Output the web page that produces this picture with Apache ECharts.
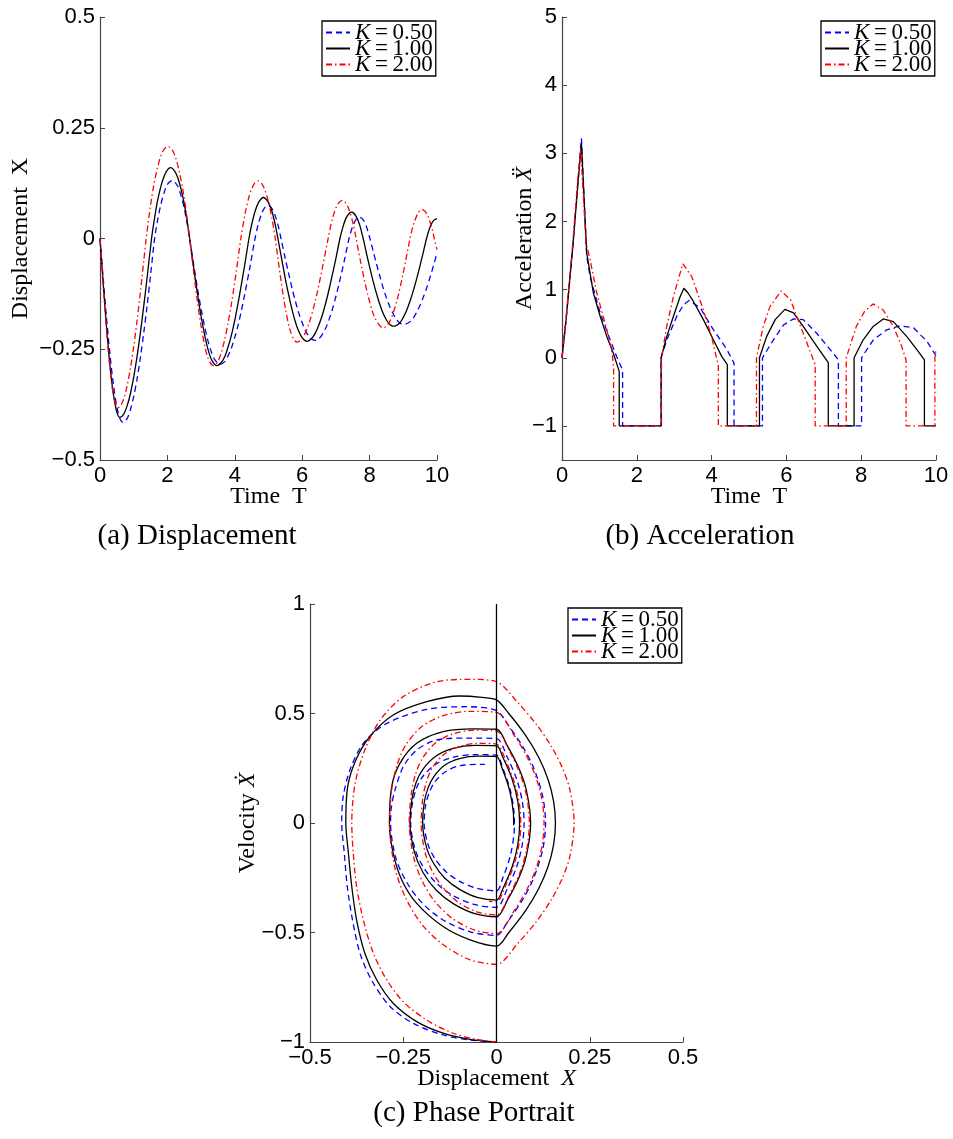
<!DOCTYPE html>
<html>
<head>
<meta charset="utf-8">
<script src="https://cdn.jsdelivr.net/npm/echarts@6/dist/echarts.min.js"></script>
<style>
html, body { margin: 0; padding: 0; background: #fff; }
#main { width: 953px; height: 1139px; }
</style>
</head>
<body>
<div id="main"></div>
<script>
// legend names, one per damping ratio
var names = ['K=0.50', 'K=1.00', 'K=2.00'];

// tick values
var timeTicks = [0, 2, 4, 6, 8, 10];
var dispTicks = [-0.5, -0.25, 0, 0.25, 0.5];
var accTicks = [-1, 0, 1, 2, 3, 4, 5];
var phaseTicksX = [-0.5, -0.25, 0, 0.25, 0.5];
var phaseTicksY = [-1, -0.5, 0, 0.5, 1];

// (a) displacement X vs time T
var dispK050 = [[0,0],[0.1,-0.095],[0.2,-0.185],[0.3,-0.265],[0.4,-0.331],[0.5,-0.38],[0.6,-0.408],[0.68,-0.415],[0.8,-0.407],[0.9,-0.387],[1.0,-0.357],[1.1,-0.317],[1.2,-0.268],[1.3,-0.212],[1.4,-0.15],[1.5,-0.083],[1.62,0],
  [1.7,0.037],[1.8,0.075],[1.9,0.103],[2.0,0.122],[2.14,0.131],[2.3,0.119],[2.4,0.098],[2.5,0.068],[2.6,0.028],[2.66,0],
  [2.8,-0.069],[2.9,-0.116],[3.0,-0.159],[3.1,-0.197],[3.2,-0.23],[3.3,-0.255],[3.4,-0.273],[3.56,-0.284],[3.7,-0.278],[3.8,-0.265],[3.9,-0.247],[4.0,-0.223],[4.1,-0.195],[4.2,-0.161],[4.3,-0.124],[4.45,-0.064],[4.6,0],
  [4.7,0.0335],[4.8,0.057],[4.9,0.071],[4.99,0.074],[5.1,0.068],[5.2,0.051],[5.3,0.025],[5.37,0],
  [5.5,-0.046],[5.6,-0.08],[5.7,-0.113],[5.8,-0.142],[5.9,-0.169],[6.0,-0.19],[6.1,-0.209],[6.25,-0.225],[6.38,-0.23],[6.5,-0.226],[6.6,-0.216],[6.7,-0.202],[6.8,-0.182],[6.9,-0.159],[7.0,-0.131],[7.1,-0.1],[7.25,-0.05],[7.39,0],
  [7.5,0.028],[7.6,0.043],[7.7,0.048],[7.8,0.043],[7.9,0.028],[8.01,0],
  [8.1,-0.027],[8.2,-0.056],[8.3,-0.084],[8.4,-0.111],[8.5,-0.134],[8.6,-0.154],[8.7,-0.17],[8.8,-0.183],[8.9,-0.191],[9.02,-0.194],[9.2,-0.188],[9.3,-0.179],[9.4,-0.166],[9.5,-0.15],[9.6,-0.131],[9.7,-0.11],[9.8,-0.086],[9.9,-0.06],[10,-0.033]];
var dispK100 = [[0,0],[0.1,-0.106],[0.2,-0.205],[0.3,-0.29],[0.4,-0.353],[0.5,-0.392],[0.59,-0.404],[0.7,-0.397],[0.8,-0.379],[0.9,-0.351],[1.0,-0.313],[1.1,-0.266],[1.2,-0.212],[1.3,-0.151],[1.4,-0.087],[1.53,0],
  [1.6,0.037],[1.7,0.082],[1.8,0.116],[1.9,0.14],[2.0,0.155],[2.1,0.16],[2.2,0.154],[2.3,0.139],[2.4,0.113],[2.5,0.078],[2.6,0.032],[2.66,0],
  [2.8,-0.077],[2.9,-0.129],[3.0,-0.176],[3.1,-0.216],[3.2,-0.249],[3.3,-0.272],[3.4,-0.284],[3.47,-0.287],[3.6,-0.28],[3.7,-0.267],[3.8,-0.245],[3.9,-0.218],[4.0,-0.184],[4.1,-0.145],[4.2,-0.102],[4.3,-0.057],[4.42,0],
  [4.5,0.031],[4.6,0.061],[4.7,0.081],[4.8,0.091],[4.85,0.0925],[4.9,0.091],[5.0,0.081],[5.1,0.062],[5.2,0.031],[5.28,0],
  [5.4,-0.05],[5.5,-0.091],[5.6,-0.128],[5.7,-0.161],[5.8,-0.189],[5.9,-0.21],[6.0,-0.224],[6.14,-0.232],[6.3,-0.224],[6.4,-0.212],[6.5,-0.194],[6.6,-0.172],[6.7,-0.145],[6.8,-0.114],[6.9,-0.08],[7.0,-0.045],[7.12,0],
  [7.2,0.024],[7.3,0.046],[7.4,0.057],[7.46,0.0595],[7.5,0.059],[7.6,0.05],[7.7,0.032],[7.81,0],
  [7.9,-0.031],[8.0,-0.064],[8.1,-0.095],[8.2,-0.123],[8.3,-0.148],[8.4,-0.169],[8.5,-0.184],[8.6,-0.194],[8.72,-0.198],[8.9,-0.19],[9.0,-0.178],[9.1,-0.162],[9.2,-0.141],[9.3,-0.117],[9.4,-0.09],[9.5,-0.06],[9.6,-0.029],[9.69,0],
  [9.8,0.027],[9.9,0.041],[10,0.045]];
var dispK200 = [[0,0],[0.1,-0.112],[0.2,-0.213],[0.3,-0.297],[0.4,-0.354],[0.53,-0.382],[0.6,-0.379],[0.7,-0.363],[0.8,-0.334],[0.9,-0.294],[1.0,-0.244],[1.1,-0.185],[1.2,-0.12],[1.3,-0.05],[1.37,0],
  [1.5,0.075],[1.6,0.122],[1.7,0.158],[1.8,0.185],[1.9,0.201],[2.02,0.208],[2.15,0.199],[2.25,0.181],[2.35,0.152],[2.45,0.114],[2.55,0.065],[2.66,0],
  [2.8,-0.089],[2.9,-0.147],[3.0,-0.198],[3.1,-0.239],[3.2,-0.269],[3.36,-0.287],[3.5,-0.277],[3.6,-0.257],[3.7,-0.228],[3.8,-0.191],[3.9,-0.147],[4.05,-0.071],[4.18,0],
  [4.3,0.054],[4.4,0.088],[4.5,0.112],[4.6,0.126],[4.69,0.13],[4.8,0.124],[4.9,0.108],[5.0,0.082],[5.1,0.046],[5.2,0],
  [5.35,-0.084],[5.5,-0.157],[5.65,-0.209],[5.84,-0.234],[6.0,-0.226],[6.2,-0.192],[6.4,-0.137],[6.6,-0.066],[6.77,0],
  [6.9,0.0455],[7.05,0.077],[7.2,0.086],[7.35,0.0725],[7.5,0.0365],[7.6,0],
  [7.75,-0.059],[7.95,-0.128],[8.15,-0.178],[8.4,-0.202],[8.6,-0.187],[8.8,-0.143],[9.0,-0.077],[9.2,0],
  [9.3,0.031],[9.45,0.059],[9.56,0.065],[9.7,0.055],[9.85,0.023],[9.92,0],[10,-0.025]];

// (b) acceleration vs time T
var accK050 = [[0,0],[0.11,0.56],[0.29,1.65],[0.42,2.55],[0.52,3.22],[0.66,1.5],[0.75,1.19],[1.02,0.66],[1.29,0.26],[1.46,0.02],[1.62,-0.18],[1.62,-1],[2.65,-1],[2.65,0],
  [2.8,0.26],[3.07,0.61],[3.25,0.78],[3.4,0.84],[3.7,0.73],[4.05,0.41],[4.41,0.12],[4.6,-0.08],[4.6,-1],[5.36,-1],[5.36,0],
  [5.65,0.26],[5.92,0.48],[6.19,0.57],[6.45,0.56],[6.81,0.36],[7.17,0.12],[7.39,-0.03],[7.39,-1],[8.01,-1],[8.01,0],
  [8.32,0.26],[8.68,0.41],[9.04,0.47],[9.4,0.44],[9.76,0.24],[10,0.03]];
var accK100 = [[0,0],[0.11,0.56],[0.29,1.63],[0.42,2.51],[0.52,3.14],[0.66,1.54],[0.84,0.95],[1.02,0.61],[1.2,0.31],[1.37,0.07],[1.53,-0.2],[1.53,-1],[2.65,-1],[2.65,0],
  [2.8,0.31],[2.98,0.61],[3.16,0.9],[3.26,1.02],[3.37,0.95],[3.51,0.83],[3.78,0.56],[4.05,0.26],[4.27,0.02],[4.42,-0.1],[4.42,-1],[5.28,-1],[5.28,0],
  [5.47,0.31],[5.7,0.56],[5.96,0.71],[6.19,0.66],[6.45,0.46],[6.81,0.17],[7.12,-0.07],[7.12,-1],[7.81,-1],[7.81,0],
  [8.05,0.26],[8.32,0.46],[8.59,0.57],[8.86,0.53],[9.22,0.31],[9.49,0.12],[9.69,-0.03],[9.69,-1],[10,-1]];
var accK200 = [[0,0],[0.11,0.6],[0.29,1.7],[0.42,2.6],[0.5,3.06],[0.64,1.7],[0.75,1.44],[0.93,0.95],[1.2,0.41],[1.34,0.07],[1.38,-0.15],[1.38,-1],[2.66,-1],[2.66,0],
  [2.8,0.46],[2.98,0.9],[3.23,1.38],[3.47,1.19],[3.78,0.7],[4.0,0.31],[4.18,-0.12],[4.18,-1],[5.2,-1],[5.2,0],
  [5.38,0.46],[5.56,0.75],[5.86,0.98],[6.11,0.85],[6.45,0.36],[6.72,-0.03],[6.77,-0.1],[6.77,-1],[7.6,-1],[7.6,0],
  [7.87,0.46],[8.09,0.68],[8.32,0.79],[8.59,0.7],[8.86,0.46],[9.08,0.17],[9.2,-0.03],[9.2,-1],[9.97,-1],[9.97,0],[10,0.12]];

// (c) phase portrait: [displacement X, velocity]
var phaseK050 = [[0,-1],[-0.071,-0.991],[-0.143,-0.968],[-0.223,-0.915],[-0.286,-0.837],[-0.335,-0.717],[-0.366,-0.595],[-0.386,-0.443],[-0.4,-0.291],[-0.408,-0.138],[-0.415,0],[-0.411,0.12],[-0.393,0.242],[-0.357,0.364],[-0.294,0.455],[-0.187,0.519],[-0.08,0.531],[0,0.513],
  [0.03,0.45],[0.07,0.35],[0.1,0.25],[0.124,0.12],[0.1315,0],[0.124,-0.12],[0.1,-0.25],[0.07,-0.35],[0.03,-0.45],[0,-0.513],
  [-0.071,-0.497],[-0.142,-0.444],[-0.199,-0.366],[-0.241,-0.27],[-0.27,-0.159],[-0.284,0],[-0.282,0.07],[-0.272,0.151],[-0.25,0.257],[-0.214,0.333],[-0.161,0.379],[-0.08,0.388],[0,0.385],
  [0.029,0.3],[0.054,0.2],[0.069,0.1],[0.074,0],[0.069,-0.1],[0.054,-0.2],[0.029,-0.3],[0,-0.385],
  [-0.0575,-0.373],[-0.115,-0.333],[-0.161,-0.275],[-0.1955,-0.203],[-0.2185,-0.119],[-0.23,0],[-0.225,0.093],[-0.214,0.161],[-0.1955,0.217],[-0.161,0.27],[-0.115,0.301],[-0.0575,0.312],[0,0.31],
  [0.017,0.25],[0.037,0.15],[0.047,0.05],[0.048,0],[0.047,-0.05],[0.037,-0.15],[0.017,-0.25],[0,-0.31],
  [-0.0485,-0.3],[-0.097,-0.268],[-0.136,-0.221],[-0.165,-0.163],[-0.184,-0.096],[-0.194,0],[-0.19,0.081],[-0.18,0.14],[-0.165,0.189],[-0.136,0.235],[-0.097,0.262],[-0.031,0.268]];
var phaseK100 = [[0,-1],[-0.071,-0.988],[-0.143,-0.96],[-0.214,-0.907],[-0.277,-0.823],[-0.321,-0.717],[-0.353,-0.595],[-0.375,-0.443],[-0.388,-0.291],[-0.397,-0.138],[-0.404,0],[-0.399,0.166],[-0.377,0.288],[-0.34,0.394],[-0.277,0.493],[-0.187,0.554],[-0.098,0.58],[-0.04,0.574],[0,0.562],
  [0.033,0.5],[0.078,0.4],[0.113,0.3],[0.138,0.2],[0.153,0.1],[0.158,0],[0.153,-0.1],[0.138,-0.2],[0.113,-0.3],[0.078,-0.4],[0.033,-0.5],[0,-0.562],
  [-0.071,-0.534],[-0.143,-0.473],[-0.214,-0.367],[-0.254,-0.26],[-0.277,-0.138],[-0.287,0],[-0.281,0.166],[-0.259,0.272],[-0.214,0.364],[-0.143,0.417],[-0.062,0.43],[0,0.428],
  [0.03,0.35],[0.06,0.25],[0.08,0.15],[0.0915,0],[0.08,-0.15],[0.06,-0.25],[0.03,-0.35],[0,-0.428],
  [-0.058,-0.414],[-0.116,-0.368],[-0.162,-0.306],[-0.197,-0.226],[-0.22,-0.133],[-0.232,0],[-0.227,0.106],[-0.216,0.183],[-0.197,0.246],[-0.162,0.306],[-0.116,0.341],[-0.058,0.354],[0,0.352],
  [0.017,0.3],[0.042,0.2],[0.057,0.1],[0.062,0],[0.057,-0.1],[0.042,-0.2],[0.017,-0.3],[0,-0.352],
  [-0.0495,-0.341],[-0.099,-0.303],[-0.139,-0.251],[-0.168,-0.186],[-0.188,-0.109],[-0.198,0],[-0.194,0.091],[-0.184,0.158],[-0.168,0.212],[-0.139,0.264],[-0.099,0.294],[-0.0495,0.305],[0,0.303],
  [0.015,0.25],[0.035,0.15],[0.045,0.05],[0.046,-0.01]];
var phaseK200 = [[0,-1],[-0.054,-0.988],[-0.116,-0.96],[-0.187,-0.9],[-0.25,-0.816],[-0.294,-0.717],[-0.33,-0.595],[-0.357,-0.443],[-0.375,-0.291],[-0.384,-0.138],[-0.388,0],[-0.379,0.181],[-0.353,0.333],[-0.312,0.47],[-0.25,0.577],[-0.16,0.645],[-0.071,0.656],[0,0.645],
  [0.057,0.55],[0.107,0.45],[0.147,0.35],[0.177,0.25],[0.197,0.15],[0.208,0],[0.197,-0.15],[0.177,-0.25],[0.147,-0.35],[0.107,-0.45],[0.057,-0.55],[0,-0.645],
  [-0.072,-0.624],[-0.1435,-0.555],[-0.201,-0.461],[-0.244,-0.34],[-0.273,-0.2],[-0.287,0],[-0.281,0.152],[-0.267,0.263],[-0.244,0.354],[-0.201,0.439],[-0.1435,0.49],[-0.072,0.51],[0,0.505],
  [0.0475,0.4],[0.0825,0.3],[0.1075,0.2],[0.1225,0.1],[0.1275,0],[0.1225,-0.1],[0.1075,-0.2],[0.0825,-0.3],[0.0475,-0.4],[0,-0.505],
  [-0.0585,-0.489],[-0.117,-0.437],[-0.164,-0.361],[-0.199,-0.266],[-0.222,-0.157],[-0.234,0],[-0.229,0.126],[-0.218,0.218],[-0.199,0.294],[-0.164,0.365],[-0.117,0.407],[-0.0585,0.424],[0,0.42],
  [0.034,0.33],[0.062,0.23],[0.081,0.12],[0.088,0],[0.081,-0.12],[0.062,-0.23],[0.034,-0.33],[0,-0.42],
  [-0.0505,-0.407],[-0.101,-0.364],[-0.141,-0.3],[-0.172,-0.221],[-0.192,-0.131],[-0.202,0],[-0.198,0.108],[-0.188,0.187],[-0.172,0.252],[-0.141,0.313],[-0.101,0.349],[-0.0505,0.364],[0,0.36],
  [0.026,0.28],[0.049,0.18],[0.062,0.08],[0.065,0],[0.062,-0.08],[0.049,-0.18],[0.026,-0.28],[0,-0.36],[-0.02,-0.358]];
// the X = 0 line in the phase portrait
var wallLine = [[0,-1],[0,1]];

var colors = ['#0000ff', '#000000', '#ff0000'];
var dashes = [[6, 4], 'solid', [6, 3, 1.5, 3]];

var serif = '"Liberation Serif", "DejaVu Serif", serif';
var sans = '"Liberation Sans", Arial, sans-serif';

function fmt(v) {
    return v < 0 ? '\u2212' + (-v) : '' + v;
}

function axis(grid, min, max, ticks, name, gap) {
    return {
        type: 'value',
        gridIndex: grid,
        min: min,
        max: max,
        name: name,
        nameLocation: 'middle',
        nameGap: gap,
        nameMoveOverlap: false,
        nameTextStyle: {
            fontFamily: serif, fontSize: 24, color: '#000',
            rich: {
                t: { fontFamily: serif, fontSize: 24, color: '#000' },
                i: { fontFamily: serif, fontSize: 24, color: '#000', fontStyle: 'italic' }
            }
        },
        axisLine: { show: true, onZero: false, lineStyle: { color: '#444', width: 1.2 } },
        axisTick: { show: true, inside: true, length: 5, customValues: ticks, lineStyle: { color: '#444', width: 1 } },
        axisLabel: { show: true, customValues: ticks, margin: 5, color: '#000', fontFamily: sans, fontSize: 22, formatter: fmt },
        splitLine: { show: false }
    };
}

function lines(grid, list, smooth) {
    return list.map(function (d, k) {
        return {
            name: names[k],
            type: 'line',
            xAxisIndex: grid,
            yAxisIndex: grid,
            data: d,
            symbol: 'none',
            showSymbol: false,
            smooth: smooth,
            animation: false,
            lineStyle: { color: colors[k], width: 1.3, type: dashes[k] },
            itemStyle: { color: colors[k] }
        };
    });
}

function legendAt(left, top) {
    return {
        left: left,
        top: top,
        orient: 'vertical',
        data: names,
        selectedMode: false,
        itemWidth: 24,
        itemHeight: 10,
        itemGap: -7,
        padding: [0, 3, 0, 3],
        borderColor: '#000',
        borderWidth: 1.3,
        borderRadius: 0,
        backgroundColor: '#fff',
        itemStyle: { opacity: 0 },
        formatter: function (n) {
            return '{i|K}{t|\u2009=\u2009' + n.slice(2) + '}';
        },
        textStyle: {
            fontFamily: serif, fontSize: 23, color: '#000', lineHeight: 17,
            rich: {
                i: { fontFamily: serif, fontSize: 23, fontStyle: 'italic', color: '#000', lineHeight: 17 },
                t: { fontFamily: serif, fontSize: 23, color: '#000', lineHeight: 17 }
            }
        }
    };
}

function caption(text, x, y) {
    return {
        type: 'text',
        x: x,
        y: y,
        style: { text: text, fill: '#000', font: '29px ' + serif, textAlign: 'center', textVerticalAlign: 'middle' }
    };
}

var chart = echarts.init(document.getElementById('main'), null, { renderer: 'canvas' });

var series = []
    .concat(lines(0, [dispK050, dispK100, dispK200], 0.3))
    .concat(lines(1, [accK050, accK100, accK200], false))
    .concat(lines(2, [phaseK050, phaseK100, phaseK200], 0.3));
series.push({
    type: 'line',
    xAxisIndex: 2,
    yAxisIndex: 2,
    data: wallLine,
    symbol: 'none',
    animation: false,
    lineStyle: { color: '#000', width: 1.3 }
});

chart.setOption({
    backgroundColor: '#fff',
    animation: false,
    grid: [
        { left: 100, top: 17, width: 337, height: 443, outerBoundsMode: 'none' },
        { left: 562, top: 17, width: 374, height: 443, outerBoundsMode: 'none' },
        { left: 310, top: 604, width: 373, height: 438, outerBoundsMode: 'none' }
    ],
    xAxis: [
        axis(0, 0, 10, timeTicks, 'Time  T', 25),
        axis(1, 0, 10, timeTicks, 'Time  T', 25),
        axis(2, -0.5, 0.5, phaseTicksX, '{t|Displacement  }{i|X}', 25)
    ],
    yAxis: [
        axis(0, -0.5, 0.5, dispTicks, 'Displacement  X', 67),
        axis(1, -1.5, 5, accTicks, '{t|Acceleration }{i|\u1E8C}', 25),
        axis(2, -1, 1, phaseTicksY, '{t|Velocity }{i|\u1E8A}', 50)
    ],
    legend: [legendAt(322, 21), legendAt(821, 21), legendAt(568, 608)],
    graphic: [
        caption('(a) Displacement', 197, 536),
        caption('(b) Acceleration', 700, 536),
        caption('(c) Phase Portrait', 474, 1113)
    ],
    series: series
});
</script>
</body>
</html>
